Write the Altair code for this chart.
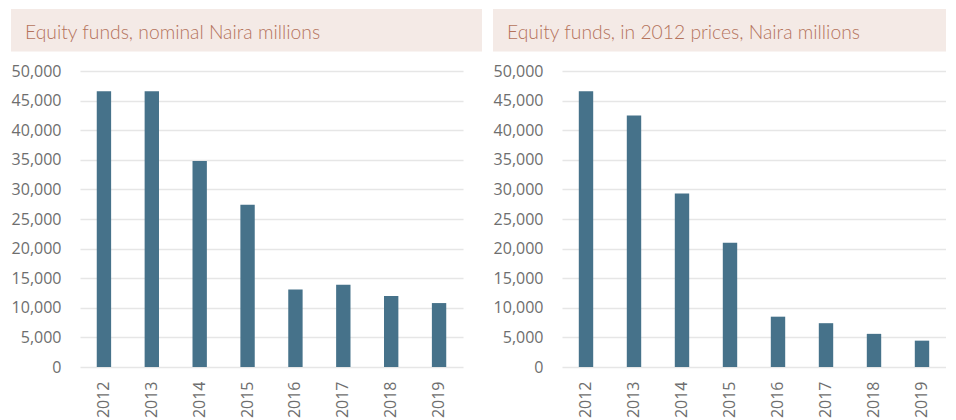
import altair as alt
import pandas as pd

years = ["2012", "2013", "2014", "2015", "2016", "2017", "2018", "2019"]
nominal_values = [46600, 46600, 34800, 27400, 13100, 13900, 12000, 10800]
real_values = [46600, 42500, 29300, 21000, 8500, 7400, 5600, 4450]
titles = ["Equity funds, nominal Naira millions", "Equity funds, in 2012 prices, Naira millions"]
y_ticks = [0, 5000, 10000, 15000, 20000, 25000, 30000, 35000, 40000, 45000, 50000]

BAR = "#46728a"
BOX = "#f4eae6"
TITLE_C = "#b4735c"
LABEL_C = "#6e6e6e"
GRID_C = "#e6e6e6"


def panel(values, title, width, box_right):
    df = pd.DataFrame({"year": years, "value": values})
    base = alt.Chart(df)
    bars = base.mark_bar(color=BAR).encode(
        x=alt.X(
            "year:N",
            sort=years,
            scale=alt.Scale(paddingInner=0.7, paddingOuter=0.35),
            axis=alt.Axis(
                title=None,
                labelAngle=-90,
                labelPadding=14,
                ticks=False,
                domain=False,
                grid=False,
                labelFont="Open Sans",
                labelFontSize=16,
                labelColor=LABEL_C,
            ),
        ),
        y=alt.Y(
            "value:Q",
            scale=alt.Scale(domain=[0, 50000], nice=False),
            axis=alt.Axis(
                title=None,
                values=y_ticks,
                labelExpr="format(datum.value, ',.0f')",
                ticks=False,
                domain=False,
                grid=True,
                gridColor=GRID_C,
                gridWidth=1.5,
                labelPadding=19,
                labelFont="Open Sans",
                labelFontSize=16,
                labelColor=LABEL_C,
            ),
        ),
    )
    tdf = pd.DataFrame({"t": [title]})
    box = alt.Chart(tdf).mark_rect(color=BOX).encode(
        x=alt.value(-69),
        x2=alt.value(box_right),
        y=alt.value(-62),
        y2=alt.value(-19.5),
    )
    txt = alt.Chart(tdf).mark_text(
        align="left",
        baseline="alphabetic",
        font="Lato",
        fontWeight=300,
        fontSize=19.3,
        color=TITLE_C,
    ).encode(
        text="t:N",
        x=alt.value(-55),
        y=alt.value(-32.5),
    )
    return alt.layer(box, txt, bars).properties(width=width, height=296)


left = panel(nominal_values, titles[0], 383, 402)
right = panel(real_values, titles[1], 384, 384)

chart = (
    alt.hconcat(left, right, spacing=11)
    .properties(padding={"left": 3, "top": 1, "right": 0, "bottom": 0})
    .configure_view(stroke=None)
)

chart.save("out.html", embed_options={"renderer": "svg", "actions": False})
